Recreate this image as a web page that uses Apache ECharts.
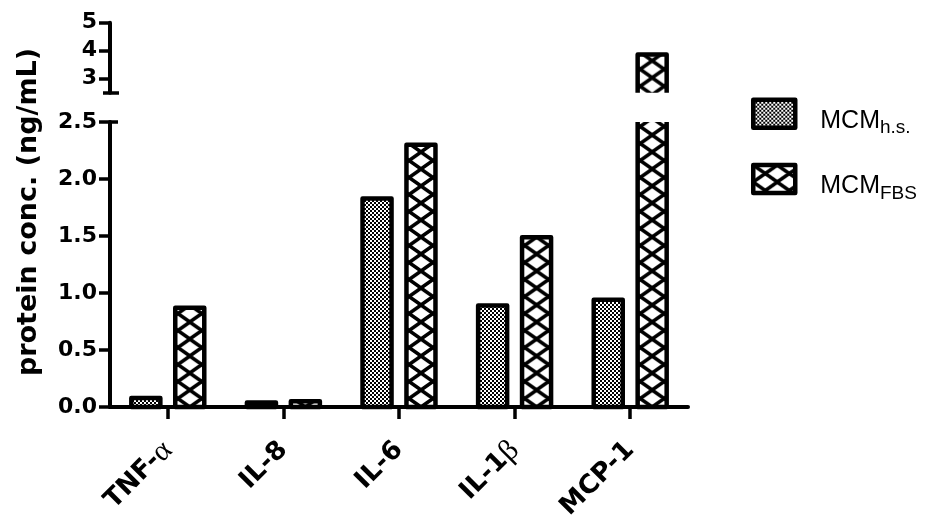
<!DOCTYPE html>
<html><head><meta charset="utf-8">
<script src="https://cdn.jsdelivr.net/npm/echarts@6/dist/echarts.min.js"></script>
<style>html,body{margin:0;padding:0;background:#fff}#c{width:945px;height:523px}</style>
</head><body><div id="c"></div>
<script>
// ---- data ----
const categories = ['TNF-α', 'IL-8', 'IL-6', 'IL-1β', 'MCP-1'];
const seriesNames = ['MCM h.s.', 'MCM FBS'];
const legendMain = 'MCM';
const legendSubs = ['h.s.', 'FBS'];
const hsValues = [0.08, 0.04, 1.83, 0.89, 0.94];
const fbsValues = [0.87, 0.05, 2.30, 1.49, 3.86];
const upperTicks = [3, 4, 5];
const breakValue = 2.5;
const yTitle = 'protein conc. (ng/mL)';

// ---- styles ----
const FONT = 'DejaVu Sans';
const BORDER = 4.5;
const BW = 0.251;   // bar width as fraction of band
const OFF = 0.19;   // bar center offset as fraction of band

function makeChecker() {
  const c = document.createElement('canvas'); c.width = 4; c.height = 4;
  const g = c.getContext('2d');
  g.fillStyle = '#fff'; g.fillRect(0, 0, 4, 4);
  g.fillStyle = '#000'; g.fillRect(0, 0, 2, 2); g.fillRect(2, 2, 2, 2);
  return c;
}
function makeHatch(W, H, lw) {
  const c = document.createElement('canvas'); c.width = W; c.height = H;
  const g = c.getContext('2d');
  g.fillStyle = '#fff'; g.fillRect(0, 0, W, H);
  g.strokeStyle = '#000'; g.lineWidth = lw; g.lineCap = 'butt';
  for (let kx = -1; kx <= 1; kx++) for (let ky = -1; ky <= 1; ky++) {
    g.beginPath();
    g.moveTo(kx * W, ky * H); g.lineTo((kx + 1) * W, (ky + 1) * H);
    g.moveTo((kx + 1) * W, ky * H); g.lineTo(kx * W, (ky + 1) * H);
    g.stroke();
  }
  return c;
}
const checkerTile = makeChecker();
const hatchTile = makeHatch(24, 17, 3.5);

function makeRender(sIdx) {
  return function (params, api) {
    const cat = api.value(0), val = api.value(1);
    const band = api.size([1, 0])[0];
    const base = api.coord([cat, 0]);
    const topPt = api.coord([cat, val]);
    const cx = base[0] + (sIdx === 0 ? -1 : 1) * OFF * band;
    const bw = BW * band;
    const x0 = cx - bw / 2, x1 = cx + bw / 2;
    const cs = params.coordSys;
    const gTop = cs.y, gBot = cs.y + cs.height;
    const clipTop = topPt[1] < gTop, clipBot = base[1] > gBot;
    const yt = clipTop ? gTop : topPt[1];
    const yb = clipBot ? gBot : base[1];
    if (yb - yt <= 0.5) return null;
    const fill = sIdx === 0
      ? { image: checkerTile, repeat: 'repeat' }
      : { image: hatchTile, repeat: 'repeat', x: cx, y: base[1] };
    const children = [{ type: 'rect', shape: { x: x0, y: yt, width: bw, height: yb - yt }, style: { fill: fill } }];
    const st = { stroke: '#000', lineWidth: BORDER, lineJoin: 'round', fill: 'none' };
    if (!clipTop && !clipBot) {
      children.push({ type: 'polygon', shape: { points: [[x0, yb], [x0, yt], [x1, yt], [x1, yb]] }, style: st });
    } else if (clipTop && !clipBot) {
      children.push({ type: 'polyline', shape: { points: [[x0, yt], [x0, yb], [x1, yb], [x1, yt]] }, style: st });
    } else if (!clipTop && clipBot) {
      children.push({ type: 'polyline', shape: { points: [[x0, yb], [x0, yt], [x1, yt], [x1, yb]] }, style: st });
    } else {
      children.push({ type: 'polyline', shape: { points: [[x0, yt], [x0, yb]] }, style: st });
      children.push({ type: 'polyline', shape: { points: [[x1, yt], [x1, yb]] }, style: st });
    }
    return { type: 'group', children: children };
  };
}

const fills = [
  { image: checkerTile, repeat: 'repeat' },
  { image: hatchTile, repeat: 'repeat' }
];
const dataSets = [hsValues, fbsValues];

const series = [];
[[0, 0], [1, 2]].forEach(function (ax) {
  [0, 1].forEach(function (s) {
    series.push({
      type: 'custom', name: seriesNames[s],
      xAxisIndex: ax[0], yAxisIndex: ax[1],
      data: dataSets[s].map(function (v, i) { return [i, v]; }),
      encode: { x: 0, y: 1 },
      renderItem: makeRender(s),
      itemStyle: { color: fills[s], borderColor: '#000', borderWidth: BORDER }
    });
  });
});

const tickLabelStyle = { color: '#000', fontFamily: FONT, fontWeight: 'bold', fontSize: 22 };
const axisLineStyle = { color: '#000', width: 4 };
const tickLineStyle = { color: '#000', width: 3.5 };

const option = {
  animation: false,
  backgroundColor: '#fff',
  grid: [
    { left: 110, top: 22.7, width: 578, height: 70 },
    { left: 110, top: 122, width: 578, height: 285 }
  ],
  xAxis: [
    { type: 'category', gridIndex: 0, data: categories, show: false },
    {
      type: 'category', gridIndex: 1, data: categories,
      axisLine: { show: true, lineStyle: axisLineStyle },
      axisTick: { show: true, alignWithLabel: true, length: 12, lineStyle: tickLineStyle },
      axisLabel: {
        rotate: 45, margin: 39, interval: 0,
        color: '#000', fontFamily: FONT, fontWeight: 'bold', fontSize: 26,
        formatter: function (v) { return v.replace('α', '{g|α}').replace('β', '{g|β}'); },
        rich: { g: { fontFamily: 'Liberation Serif', fontWeight: 'normal', fontSize: 30, color: '#000' } }
      },
      splitLine: { show: false }
    }
  ],
  yAxis: [
    {
      type: 'value', gridIndex: 0, position: 'left', min: breakValue, max: 5,
      axisLine: { show: true, lineStyle: axisLineStyle },
      axisTick: { show: true, length: 11, customValues: upperTicks, lineStyle: tickLineStyle },
      axisLabel: Object.assign({ margin: 13, customValues: upperTicks }, tickLabelStyle),
      splitLine: { show: false }
    },
    {
      type: 'value', gridIndex: 0, position: 'left', min: breakValue, max: 5, offset: -9,
      axisLine: { show: false },
      axisTick: { show: true, length: 16, customValues: [breakValue], lineStyle: tickLineStyle },
      axisLabel: { show: false }, splitLine: { show: false }
    },
    {
      type: 'value', gridIndex: 1, position: 'left', min: 0, max: breakValue, interval: 0.5,
      axisLine: { show: true, lineStyle: axisLineStyle },
      axisTick: { show: true, length: 11, lineStyle: tickLineStyle },
      axisLabel: Object.assign({ margin: 13, formatter: function (v) { return v.toFixed(1); } }, tickLabelStyle),
      splitLine: { show: false }
    },
    {
      type: 'value', gridIndex: 1, position: 'left', min: 0, max: breakValue, offset: -8,
      axisLine: { show: false },
      axisTick: { show: true, length: 8, customValues: [breakValue], lineStyle: tickLineStyle },
      axisLabel: { show: false }, splitLine: { show: false }
    }
  ],
  legend: {
    orient: 'vertical', left: 751, top: 97.5, padding: 0,
    itemWidth: 42, itemHeight: 28, itemGap: 23, icon: 'rect',
    selectedMode: false,
    data: seriesNames.map(function (n, i) {
      return { name: n, itemStyle: { color: fills[i], borderColor: '#000', borderWidth: BORDER, borderJoin: 'round' } };
    }),
    formatter: function (name) {
      const i = seriesNames.indexOf(name);
      return '{m|' + legendMain + '}{s|' + legendSubs[i] + '}';
    },
    textStyle: {
      color: '#000',
      rich: {
        m: { fontFamily: 'Liberation Sans', fontSize: 25, lineHeight: 24, color: '#000', padding: [6.5, 0, 6.5, 20], verticalAlign: 'top' },
        s: { fontFamily: 'Liberation Sans', fontSize: 19, lineHeight: 19, color: '#000', padding: [17, 0, 0, 0], verticalAlign: 'top' }
      }
    }
  },
  graphic: [{
    type: 'text', x: 29, y: 212, rotation: Math.PI / 2,
    style: { text: yTitle, fill: '#000', font: 'bold 27px "DejaVu Sans"', align: 'center', verticalAlign: 'middle' }
  }],
  series: series
};

const chart = echarts.init(document.getElementById('c'), null, { renderer: 'canvas' });
chart.setOption(option);
</script>
</body></html>
